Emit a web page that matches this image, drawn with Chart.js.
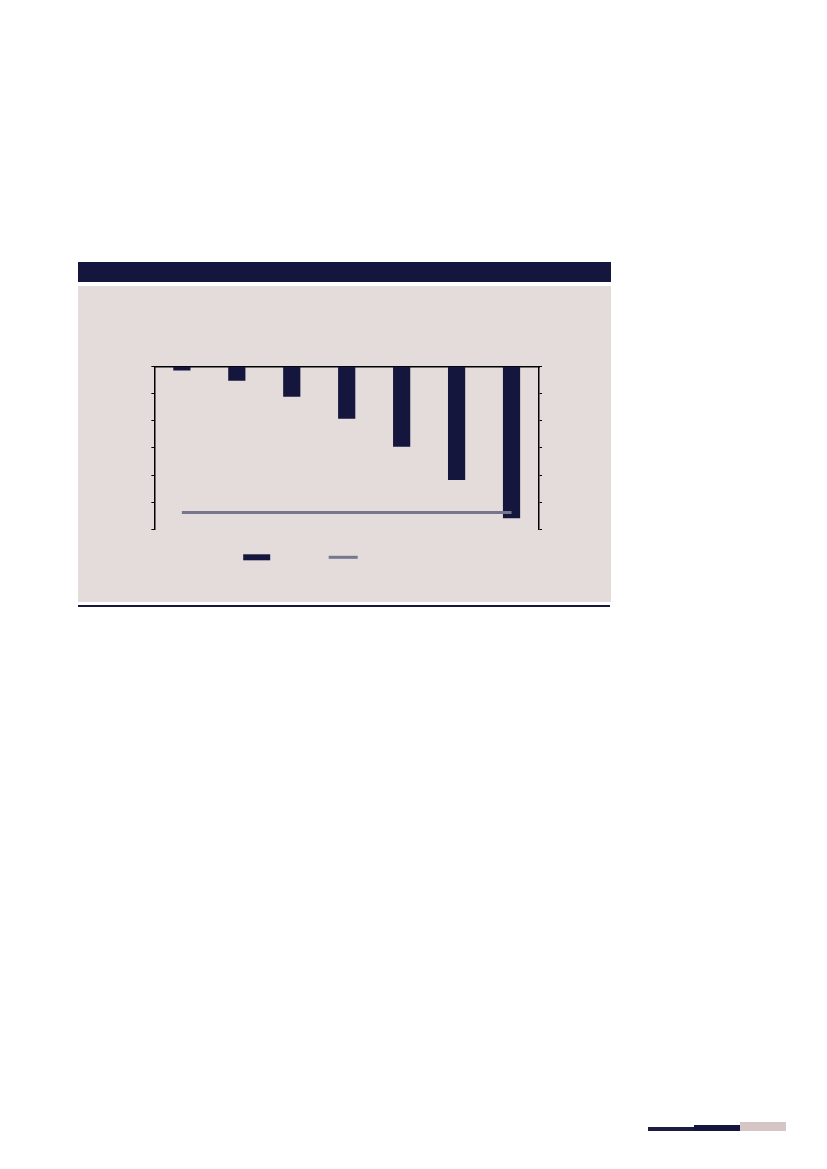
<!DOCTYPE html>
<html>
<head>
<meta charset="utf-8">
<script src="https://cdn.jsdelivr.net/npm/chart.js@4/dist/chart.umd.min.js"></script>
<style>
  html, body { margin: 0; padding: 0; background: #ffffff; }
  body { width: 827px; height: 1169px; position: relative; overflow: hidden; font-family: 'Liberation Sans', Arial, sans-serif; }
  .head   { position: absolute; left: 78px; top: 262px; width: 533px; height: 20px; background: #15163d; }
  .panel  { position: absolute; left: 78px; top: 286px; width: 533px; height: 316px; background: #e3dcdb; }
  .rule   { position: absolute; left: 78px; top: 605px; width: 532px; height: 1.5px; background: #15163d; }
  .panel canvas { position: absolute; left: 0; top: 0; }
  .foot1 { position: absolute; left: 648px; top: 1127px; width: 47px; height: 3.5px; background: #1b1c40; }
  .foot2 { position: absolute; left: 694px; top: 1125px; width: 47px; height: 5.5px; background: #15163d; }
  .foot3 { position: absolute; left: 740px; top: 1122px; width: 46px; height: 8.5px; background: #d5c6c5; }
</style>
</head>
<body>
<div class="head"></div>
<div class="panel"><canvas id="chart" width="533" height="316"></canvas></div>
<div class="rule"></div>
<div class="foot1"></div>
<div class="foot2"></div>
<div class="foot3"></div>

<script>
// ── DATA ──
const categories = [1, 2, 3, 4, 5, 6, 7];
const barValues  = [-0.15, -0.53, -1.12, -1.93, -2.96, -4.18, -5.58];
const lineValues = [-5.37, -5.37, -5.37, -5.37, -5.37, -5.37, -5.37];
const yTicks     = [0, -1, -2, -3, -4, -5, -6];

const COLORS = {
  navy:  '#15163d',
  slate: '#76778f',
  axis:  '#000000',
};

// small legend: swatches only, placed under the plot area
const swatchLegend = {
  id: 'swatchLegend',
  afterDraw(chart) {
    const { ctx, chartArea } = chart;
    const [lineDs, barDs] = chart.data.datasets;
    const y = chartArea.bottom + 27.7;
    ctx.save();
    ctx.fillStyle = barDs.backgroundColor;
    ctx.fillRect(chartArea.left + 102.3 - 13.5, y - 3, 27, 6);
    ctx.strokeStyle = lineDs.borderColor;
    ctx.lineWidth = lineDs.borderWidth;
    ctx.beginPath();
    ctx.moveTo(chartArea.left + 188.8 - 14.5, y);
    ctx.lineTo(chartArea.left + 188.8 + 14.5, y);
    ctx.stroke();
    ctx.restore();
  },
};

const yAxis = (position) => ({
  position,
  min: Math.min(...yTicks),
  max: Math.max(...yTicks),
  afterBuildTicks: scale => { scale.ticks = yTicks.map(v => ({ value: v })); },
  ticks: { display: false },
  grid: { display: true, drawOnChartArea: false, drawTicks: true, tickLength: 3, color: COLORS.axis, lineWidth: 1 },
  border: { display: true, color: COLORS.axis, width: 1.5 },
});

new Chart(document.getElementById('chart'), {
  type: 'bar',
  data: {
    labels: categories,
    datasets: [
      {
        type: 'line',
        data: lineValues,
        yAxisID: 'y2',
        borderColor: COLORS.slate,
        borderWidth: 3,
        pointRadius: 0,
        tension: 0,
        fill: false,
        order: 0,
      },
      {
        data: barValues,
        yAxisID: 'y',
        backgroundColor: COLORS.navy,
        borderWidth: 0,
        barPercentage: 0.313,
        categoryPercentage: 1,
        order: 1,
      },
    ],
  },
  options: {
    responsive: false,
    animation: false,
    devicePixelRatio: 1,
    layout: { padding: { left: 73.4, right: 69, top: 80.3, bottom: 72.4 } },
    plugins: { legend: { display: false }, tooltip: { enabled: false } },
    scales: {
      x: {
        position: 'top',
        offset: true,
        ticks: { display: false },
        grid: { display: false, drawTicks: false },
        border: { display: true, color: COLORS.axis, width: 1.5 },
      },
      y:  yAxis('left'),
      y2: yAxis('right'),
    },
  },
  plugins: [swatchLegend],
});
</script>
</body>
</html>
